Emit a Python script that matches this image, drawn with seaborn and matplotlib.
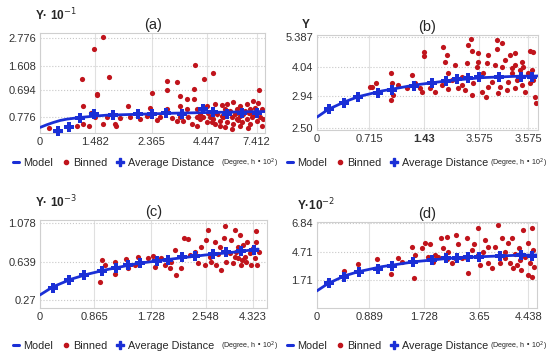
import matplotlib
matplotlib.use("Agg")
import matplotlib.pyplot as plt
from matplotlib.lines import Line2D
import seaborn as sns

# values, in plot units of each panel (tick labels are the original ones)
# ---- (a)
a_model_x = [0, 20, 40, 60, 80, 120, 160, 200, 300, 400, 500, 600, 675]
a_model_y = [14, 22, 29, 35, 39, 44, 48, 51, 54, 57, 59, 61, 62]
a_avg_x = [55, 88, 120, 163, 220, 295, 335, 378, 425, 488, 520, 560, 605, 650]
a_avg_y = [4, 14, 41, 54, 51, 54, 54, 59, 54, 69, 61, 54, 59, 59]
a_binned = [(190, 287), (162, 252), (125, 162), (207, 167), (170, 116), (172, 112), (130, 79),
            (465, 204), (518, 179), (493, 161), (382, 156), (410, 151), (382, 126), (335, 117),
            (462, 131), (462, 101), (658, 127), (265, 79), (330, 74), (420, 109), (440, 101),
            (380, 69), (28, 11), (110, 19), (148, 17), (190, 24), (225, 24), (228, 19), (270, 47),
            (300, 39), (320, 49), (350, 37), (360, 47), (395, 41), (410, 34), (420, 47), (430, 34),
            (445, 44), (455, 24), (470, 44), (480, 39), (500, 29), (510, 44), (520, 39), (530, 54),
            (540, 34), (550, 47), (560, 29), (570, 64), (575, 44), (580, 24), (590, 39), (600, 49),
            (605, 29), (615, 64), (620, 39), (630, 24), (640, 51), (645, 74), (650, 34), (660, 47),
            (665, 19), (665, 69), (525, 84), (545, 81), (560, 84), (580, 91), (600, 79), (620, 84),
            (640, 94), (655, 89), (500, 79), (470, 69), (440, 69), (420, 79), (555, 69), (590, 69),
            (630, 69), (240, 41), (200, 47), (152, 59), (165, 44), (130, 24), (600, 19), (525, 24),
            (470, 19), (540, 19), (480, 54), (505, 59), (575, 9), (625, 11), (555, 14), (610, 55),
            (635, 45), (585, 55), (545, 50), (515, 30), (490, 45), (650, 60), (668, 40), (595, 35),
            (628, 58)]
a_xticks = [0, 165, 335, 500, 650]
a_xlabels = ["0", "1.482", "2.365", "4.447", "7.412"]
a_yticks = [45, 126, 201, 285]
a_ylabels = ["0.776", "0.694", "1.608", "2.776"]

# ---- (b)
b_model_x = [5, 40, 90, 130, 200, 300, 400, 500, 600, 669]
b_model_y = [38, 62, 85, 100, 117, 135, 148, 157, 161, 162]
b_avg_x = [42, 88, 130, 190, 232, 298, 350, 392, 425, 460, 492, 552, 618, 650]
b_avg_y = [63, 82, 98, 110, 120, 132, 142, 148, 152, 157, 160, 160, 160, 160]
b_binned = [(467, 272), (547, 270), (562, 260), (460, 255), (328, 235), (328, 222), (385, 248),
            (395, 225), (390, 205), (490, 230), (520, 225), (545, 242), (585, 225), (600, 232),
            (622, 205), (655, 235), (645, 238), (470, 238), (490, 205), (485, 190), (420, 195),
            (455, 200), (570, 210), (540, 195), (228, 172), (292, 165), (398, 170), (560, 190),
            (600, 195), (515, 200), (182, 140), (165, 128), (232, 142), (250, 135), (300, 140),
            (320, 115), (315, 125), (345, 125), (360, 115), (380, 135), (400, 122), (410, 150),
            (430, 125), (440, 135), (450, 120), (470, 105), (475, 140), (500, 115), (512, 100),
            (520, 130), (530, 145), (548, 110), (555, 130), (575, 120), (580, 145), (590, 170),
            (600, 125), (605, 150), (615, 180), (620, 135), (630, 115), (640, 170), (645, 140),
            (655, 150), (660, 100), (662, 82), (172, 128), (228, 90), (235, 105), (275, 125),
            (440, 160), (505, 170), (590, 185), (610, 160), (625, 190), (650, 180)]
b_xticks = [6, 163, 328, 493, 640]
b_xlabels = ["0", "0.715", "1.43", "3.575", "3.575"]
b_yticks = [6, 102, 189, 279]
b_ylabels = ["2.50", "2.94", "4.04", "5.387"]

# ---- (c)
c_model_x = [5, 45, 100, 150, 200, 300, 400, 500, 600, 660]
c_model_y = [39, 64, 87, 102, 114, 134, 147, 159, 169, 177]
c_avg_x = [45, 92, 138, 192, 235, 270, 305, 358, 390, 432, 470, 525, 565, 610, 648]
c_avg_y = [61, 84, 99, 111, 121, 129, 136, 142, 144, 152, 156, 162, 167, 171, 174]
c_binned = [(193, 144), (200, 129), (185, 77), (230, 139), (232, 101), (265, 147), (270, 121),
            (290, 129), (300, 154), (330, 149), (345, 156), (350, 124), (370, 149), (380, 129),
            (395, 121), (400, 139), (410, 174), (415, 99), (430, 119), (438, 211), (450, 207),
            (455, 159), (470, 169), (480, 134), (490, 184), (500, 129), (505, 204), (510, 234),
            (515, 154), (520, 139), (530, 199), (535, 129), (545, 184), (550, 114), (558, 209),
            (560, 247), (565, 139), (575, 164), (585, 134), (590, 234), (595, 169), (600, 149),
            (605, 219), (610, 129), (615, 189), (620, 154), (625, 139), (628, 199), (635, 164),
            (640, 129), (645, 179), (650, 149), (655, 231), (655, 199), (658, 129), (662, 169),
            (590, 154), (612, 144), (540, 161), (600, 184), (580, 204)]
c_xticks = [6, 168, 338, 503, 645]
c_xlabels = ["0", "0.865", "1.728", "2.548", "4.323"]
c_yticks = [24, 139, 256]
c_ylabels = ["0.27", "0.639", "1.078"]

# ---- (d)
d_model_x = [5, 40, 90, 130, 200, 300, 400, 500, 600, 666]
d_model_y = [51, 74, 97, 109, 124, 139, 149, 154, 158, 159]
d_avg_x = [42, 88, 132, 188, 230, 295, 350, 392, 425, 458, 492, 555, 618, 650]
d_avg_y = [76, 92, 107, 117, 127, 137, 144, 149, 151, 152, 154, 157, 159, 157]
d_binned = [(88, 111), (130, 131), (185, 147), (192, 119), (228, 101), (248, 151), (262, 139),
            (292, 184), (296, 91), (300, 159), (322, 181), (330, 194), (345, 191), (340, 154),
            (355, 139), (370, 154), (378, 211), (385, 181), (395, 214), (400, 167), (410, 134),
            (422, 219), (430, 191), (440, 149), (455, 211), (460, 104), (470, 174), (478, 191),
            (490, 241), (495, 129), (505, 169), (510, 204), (520, 134), (530, 121), (540, 184),
            (548, 249), (555, 134), (562, 209), (570, 169), (580, 194), (585, 134), (590, 209),
            (595, 119), (600, 161), (605, 129), (612, 179), (618, 114), (625, 234), (630, 154),
            (640, 194), (645, 134), (650, 239), (652, 94), (655, 174), (658, 124), (640, 99),
            (615, 144), (570, 149), (520, 184), (490, 159), (455, 151), (420, 149), (395, 147),
            (360, 159)]
d_xticks = [6, 163, 328, 492, 640]
d_xlabels = ["0", "0.889", "1.728", "3.65", "4.438"]
d_yticks = [84, 169, 256]
d_ylabels = ["1.71", "4.71", "6.84"]

panel_titles = ["(a)", "(b)", "(c)", "(d)"]
y_units = ["Y· 10$^{-1}$", "Y", "Y· 10$^{-3}$", "Y·10$^{-2}$"]

RED = "#c0141c"
BLUE = "#1a2fd6"

sns.set_theme(style="white")
plt.rcParams["font.family"] = ["Liberation Sans", "DejaVu Sans"]

fig = plt.figure(figsize=(5.5, 3.59), dpi=100)

# axes rectangles (figure fractions) and limits
boxes = [[0.073, 0.6295, 0.409, 0.2786], [0.5764, 0.6379, 0.4018, 0.2646],
         [0.073, 0.142, 0.4127, 0.245], [0.5764, 0.142, 0.40, 0.2396]]
xlims = [(0, 675), (6, 669), (6, 687), (6, 666)]
ylims = [(-3, 300), (0, 285), (0, 264), (0, 258)]

panels = [
    (a_model_x, a_model_y, a_avg_x, a_avg_y, a_binned, a_xticks, a_xlabels, a_yticks, a_ylabels),
    (b_model_x, b_model_y, b_avg_x, b_avg_y, b_binned, b_xticks, b_xlabels, b_yticks, b_ylabels),
    (c_model_x, c_model_y, c_avg_x, c_avg_y, c_binned, c_xticks, c_xlabels, c_yticks, c_ylabels),
    (d_model_x, d_model_y, d_avg_x, d_avg_y, d_binned, d_xticks, d_xlabels, d_yticks, d_ylabels),
]

for i, (mx, my, ax_, ay_, binned, xt, xl, yt, yl) in enumerate(panels):
    ax = fig.add_axes(boxes[i])
    bx = [p[0] for p in binned]
    by = [p[1] for p in binned]
    sns.scatterplot(x=bx, y=by, ax=ax, color=RED, s=14, linewidth=0, zorder=2)
    sns.lineplot(x=mx, y=my, ax=ax, color=BLUE, lw=2, zorder=3)
    ax.errorbar(ax_, ay_, yerr=7, fmt="none", ecolor=BLUE, elinewidth=1.8, zorder=4, clip_on=False)
    ax.scatter(ax_, ay_, marker="P", s=60, color=BLUE, linewidth=0, zorder=5, clip_on=False)

    ax.set_xlim(*xlims[i])
    ax.set_ylim(*ylims[i])
    ax.set_xticks(xt)
    ax.set_xticklabels(xl)
    ax.set_yticks(yt)
    ax.set_yticklabels(yl)
    ax.tick_params(length=0, labelsize=8, colors="#333333", pad=3)
    if i == 1:
        ax.get_xticklabels()[2].set_fontweight("bold")
    ax.xaxis.grid(True, color="#e0e0e0", lw=0.8)
    ax.yaxis.grid(True, color="#c8c8c8", lw=0.8, ls=":")
    for sp in ax.spines.values():
        sp.set_color("#cfcfcf")
        sp.set_linewidth(0.8)

    ax.set_title(panel_titles[i], fontsize=10.5, pad=3)

# unit labels above the y axes
fig.text(0.064, 0.958, y_units[0], fontsize=8.5, fontweight="bold", va="center")
fig.text(0.549, 0.93, y_units[1], fontsize=8.5, fontweight="bold", va="center")
fig.text(0.064, 0.437, y_units[2], fontsize=8.5, fontweight="bold", va="center")
fig.text(0.540, 0.428, y_units[3], fontsize=8.5, fontweight="bold", va="center")

# legends under each panel
handles = [Line2D([0], [0], color=BLUE, lw=2.2),
           Line2D([0], [0], marker="o", color=RED, ls="none", markersize=3),
           Line2D([0], [0], marker="P", color=BLUE, ls="none", markersize=6)]
labels = ["Model", "Binned", "Average Distance"]
legend_spots = [(0.024, 0.546), (0.522, 0.546), (0.024, 0.036), (0.522, 0.036)]
note_spots = [(0.401, 0.546), (0.890, 0.546), (0.401, 0.036), (0.890, 0.036)]
for (lx, ly), (nx, ny) in zip(legend_spots, note_spots):
    fig.legend(handles, labels, loc="center left", bbox_to_anchor=(lx, ly), ncol=3, frameon=False,
               fontsize=7.8, handlelength=0.5, handletextpad=0.45, columnspacing=0.9,
               borderpad=0, borderaxespad=0)
    fig.text(nx, ny, "(Degree, h • 10$^2$)", fontsize=5.1, va="center")

fig.savefig("out.png", dpi=100)
